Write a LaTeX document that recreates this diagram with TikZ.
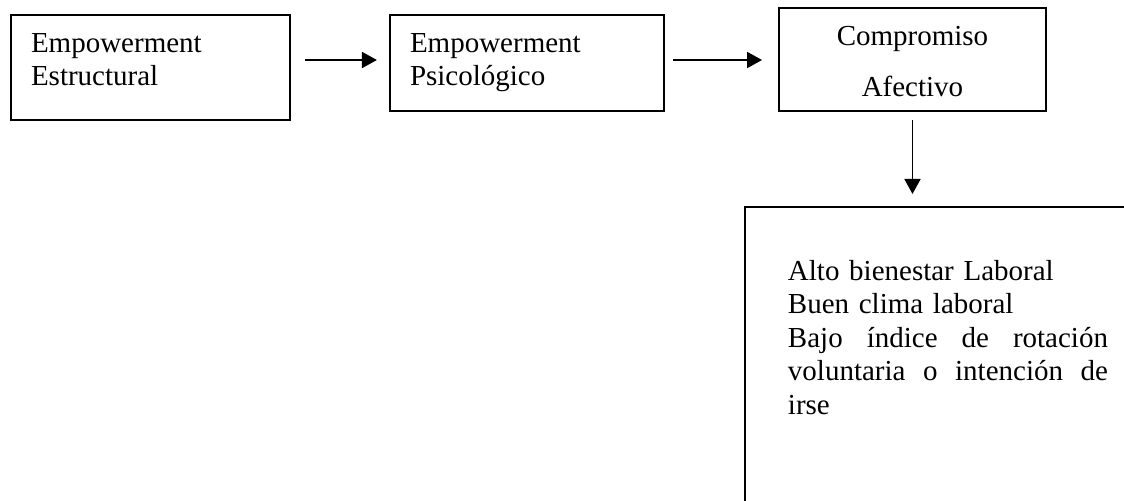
\documentclass[tikz,border=0pt]{standalone}
\usepackage{fontspec}
\setmainfont{Liberation Serif}
\usetikzlibrary{arrows.meta}

\begin{document}
\begin{tikzpicture}[x = 0.4138pt, y = -0.4138pt,
    caja/.style = {draw, line width = 0.8pt, anchor = north west,
      inner ysep = 0pt, outer sep = 0pt, align = left,
      font = \fontsize{12}{13.9}\selectfont},
    flecha/.style = {line width = 0.8pt,
      -{Triangle[length = 6.2pt, width = 6.6pt]}}]

    \useasboundingbox (0,0) rectangle (1124,500);
    \clip (0,0) rectangle (1124,500);

    \node[caja, inner xsep = 8.28pt, text width = 98.9pt,
      text height = 15.31pt, text depth = 28.14pt] (estructural) at (11,15)
      {Empowerment\\Estructural};

    \node[caja, inner xsep = 8.28pt, text width = 96.82pt,
      text height = 15.31pt, text depth = 24.41pt] (psicologico) at (390,15)
      {Empowerment\\Psicológico};

    \node[caja, inner xsep = 4.14pt, text width = 102.2pt, align = center,
      text height = 15.31pt, text depth = 27.31pt,
      font = \fontsize{12}{21.5}\selectfont] (compromiso) at (779,8)
      {Compromiso\\Afectivo};

    % resultado, the box runs past the page
    \node[caja, inner xsep = 17.79pt, text width = 132.42pt,
      text height = 30.21pt, text depth = 124.1pt] (resultado) at (745,207)
      {Alto bienestar Laboral\\
       Buen clima laboral\\
       \leavevmode\hbox to 132.42pt{Bajo\hfil índice\hfil de\hfil rotación}\\
       \leavevmode\hbox to 132.42pt{voluntaria\hfil o\hfil intención\hfil de}\\
       irse};

    \draw[flecha, shorten < = 6.2pt, shorten > = 5.4pt]
      (estructural.east |- 0,60) -- (psicologico.west |- 0,60);
    \draw[flecha, shorten < = 3.7pt, shorten > = 7pt]
      (psicologico.east |- 0,60) -- (compromiso.west |- 0,60);
    \draw[flecha, shorten < = 3.7pt, shorten > = 5.4pt]
      (compromiso.south) -- (compromiso.south |- resultado.north);

\end{tikzpicture}
\end{document}
